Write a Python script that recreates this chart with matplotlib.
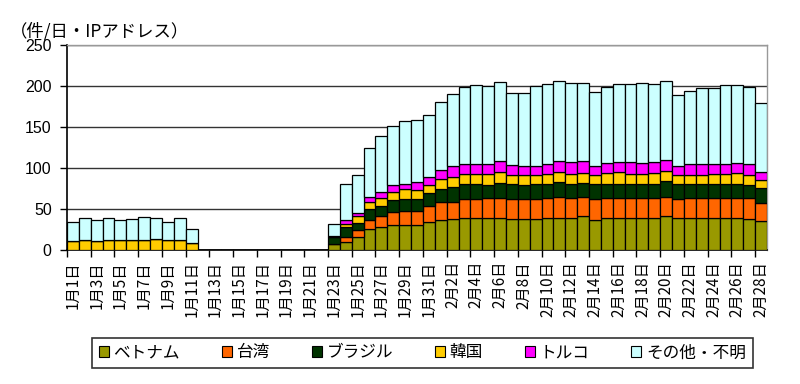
import matplotlib
matplotlib.use("Agg")
import matplotlib.pyplot as plt
from matplotlib.patches import Rectangle
import numpy as np

plt.rcParams['font.family'] = ['Noto Sans CJK JP', 'DejaVu Sans']

# dates: Jan 1 .. Feb 28
dates = [f"1月{d}日" for d in range(1, 32)] + [f"2月{d}日" for d in range(1, 29)]

series_names = ["ベトナム", "台湾", "ブラジル", "韓国", "トルコ", "その他・不明"]
colors = ["#999900", "#ff6600", "#003300", "#ffcc00", "#ff00ff", "#ccffff"]

zeros11 = [0] * 11

vietnam = [0]*11 + zeros11 + [
    7, 10, 16, 26, 28, 30, 31, 31, 34,
    37, 38, 39, 39, 39, 39, 38, 38, 38, 39, 39, 39, 41, 37, 39, 39, 39, 39, 39,
    41, 39, 39, 39, 39, 39, 39, 38, 35]
taiwan = [0]*11 + zeros11 + [
    0.5, 6, 8, 11, 13, 16, 17, 17, 20,
    21, 21, 23, 23, 24, 25, 24, 24, 24, 24, 26, 25, 24, 25, 25, 25, 25, 24, 25,
    24, 23, 24, 24, 24, 25, 24, 25, 22]
brazil = [0]*11 + zeros11 + [
    8, 12, 9, 13, 13, 15, 14, 14, 15,
    17, 18, 18, 18, 16, 18, 18, 17, 18, 18, 18, 17, 17, 18, 17, 17, 17, 17, 17,
    19, 18, 17, 17, 17, 17, 18, 16, 19]
korea = [11, 12, 11, 12, 12, 12, 12, 13, 12, 12, 8] + zeros11 + [
    0.5, 4, 8, 9, 10, 10, 13, 11, 10,
    12, 12, 13, 13, 14, 13, 12, 12, 11, 12, 12, 12, 12, 11, 13, 14, 12, 13, 13,
    12, 12, 12, 12, 13, 12, 13, 13, 9]
turkey = [0]*11 + zeros11 + [
    1, 5, 4, 6, 7, 8, 6, 10, 10,
    11, 13, 12, 12, 12, 13, 12, 11, 12, 12, 14, 14, 14, 12, 12, 12, 14, 13, 13,
    14, 11, 13, 13, 12, 12, 12, 13, 10]
other = [23, 27, 25, 26.5, 24, 25.5, 28.5, 26, 22.5, 26.5, 18] + zeros11 + [
    15, 43, 46, 60, 68, 72, 76, 76, 76,
    83, 88, 94, 96, 95, 97, 88, 90, 97, 97, 97, 97, 96, 90, 93, 95, 95, 98, 96,
    96, 86, 89, 92, 93, 96, 95, 94, 84]

data = [vietnam, taiwan, brazil, korea, turkey, other]

fig = plt.figure(figsize=(8, 3.84), dpi=100)
ax = fig.add_axes([67/800, 1-250/384, 700/800, 205/384])

x = np.arange(len(dates))
bottom = np.zeros(len(dates))
for vals, c, name in zip(data, colors, series_names):
    v = np.array(vals, dtype=float)
    ax.bar(x, v, width=1.0, bottom=bottom, color=c, edgecolor="black",
           linewidth=0.9, label=name, zorder=3)
    bottom += v

ax.set_xlim(-0.5, len(dates) - 0.5)
ax.set_ylim(0, 250)
ax.set_yticks(np.arange(0, 251, 50))
ax.set_yticklabels([str(v) for v in range(0, 251, 50)], fontsize=11.5,
                   family=['Liberation Sans', 'DejaVu Sans'])
for yv in range(50, 251, 50):
    ax.axhline(yv, color="#333333", linewidth=1.0, zorder=1)
ax.tick_params(axis='y', direction='out', length=5, width=1, pad=6)

# x ticks: marks at boundaries every 2 days, labels at centers
ax.set_xticks(np.arange(-0.5, len(dates), 2))
ax.set_xticklabels([])
ax.tick_params(axis='x', which='major', direction='out', length=5, width=1)
ax.set_xticks(np.arange(0, len(dates), 2), minor=True)
ax.set_xticklabels(dates[::2], minor=True, rotation=90, fontsize=11,
                   va='top', ha='center')
ax.tick_params(axis='x', which='minor', length=0, pad=8)

for s in ["top", "right"]:
    ax.spines[s].set_color("#999999")
    ax.spines[s].set_linewidth(1)
ax.spines["left"].set_linewidth(1.2)
ax.spines["bottom"].set_linewidth(1.2)

fig.text(0.012, 0.92, "（件/日・IPアドレス）", fontsize=12.5, ha='left', va='center')

handles = [Rectangle((0, 0), 1, 1, facecolor=c, edgecolor="black", linewidth=0.8)
           for c in colors]
leg = fig.legend(handles, series_names, loc='center', bbox_to_anchor=(0.528, 0.081),
                 ncol=6, fontsize=12, frameon=True, fancybox=False,
                 edgecolor="black", handlelength=0.6, handleheight=0.6,
                 handletextpad=0.3, columnspacing=2.5, borderpad=0.4)
leg.get_frame().set_linewidth(1.2)

fig.savefig("out.png", dpi=100)
